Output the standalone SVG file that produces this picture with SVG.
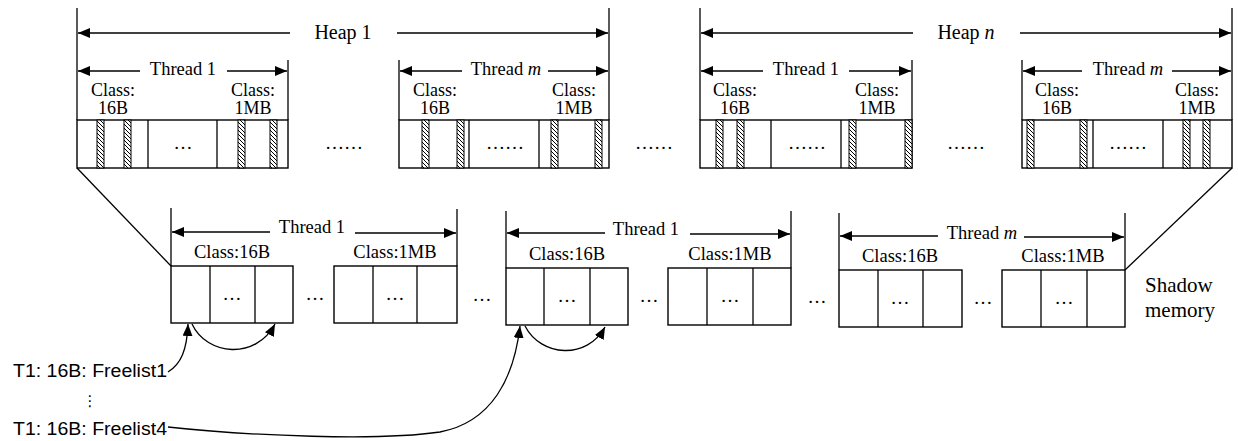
<svg xmlns="http://www.w3.org/2000/svg" width="1238" height="441" viewBox="0 0 1238 441">
<style>
.ln{stroke:#000;stroke-width:1.3;fill:none}
.bx{stroke:#000;stroke-width:1.4;fill:#fff}
.ht{stroke:#000;stroke-width:1;fill:url(#hatch)}
.s{font-family:"Liberation Serif","Times New Roman",serif;fill:#000;text-anchor:middle}
.h{font-size:20px}
.t{font-size:18.5px}
.c{font-size:18px}
.d{font-size:19px}
.sm{font-size:21px;text-anchor:start}
.f{font-family:"Liberation Sans",Arial,sans-serif;font-size:17.5px;fill:#000}
.arr{marker-end:url(#ah)}
.arl{marker-start:url(#ahs)}
</style>
<defs>
<pattern id="hatch" patternUnits="userSpaceOnUse" width="4" height="4">
<rect width="4" height="4" fill="#fff"/>
<path d="M0,0 L4,4 M-1,3 L1,5 M3,-1 L5,1" stroke="#000" stroke-width="1"/>
</pattern>
<marker id="ah" markerUnits="userSpaceOnUse" markerWidth="13" markerHeight="10" refX="12" refY="5" orient="auto">
<path d="M0,0 L12,5 L0,10 Z" fill="#000"/>
</marker>
<marker id="ahs" markerUnits="userSpaceOnUse" markerWidth="13" markerHeight="10" refX="0" refY="5" orient="auto">
<path d="M12,0 L0,5 L12,10 Z" fill="#000"/>
</marker>
</defs>
<rect width="1238" height="441" fill="#fff"/>

<!-- Heap 1 / Thread 1 -->
<g id="heap1-thread1">
<rect class="bx" x="77" y="120" width="211" height="48"/>
<line class="ln" x1="148" y1="120" x2="148" y2="168"/>
<line class="ln" x1="217" y1="120" x2="217" y2="168"/>
<rect class="ht" x="97" y="120" width="7" height="48"/>
<rect class="ht" x="124" y="120" width="7" height="48"/>
<rect class="ht" x="238" y="120" width="7" height="48"/>
<rect class="ht" x="270" y="120" width="7" height="48"/>
<text class="s c" x="113" y="96">Class:</text>
<text class="s c" x="113" y="114">16B</text>
<text class="s c" x="253" y="96">Class:</text>
<text class="s c" x="253" y="114">1MB</text>
<text class="s d" x="183" y="149">…</text>
<text class="s t" x="183" y="75">Thread 1</text>
</g>
<text class="s d" x="344" y="149">……</text>

<!-- Heap 1 / Thread m -->
<g id="heap1-threadm">
<rect class="bx" x="399" y="120" width="210" height="48"/>
<line class="ln" x1="469" y1="120" x2="469" y2="168"/>
<line class="ln" x1="539" y1="120" x2="539" y2="168"/>
<rect class="ht" x="422" y="120" width="7" height="48"/>
<rect class="ht" x="457" y="120" width="7" height="48"/>
<rect class="ht" x="551" y="120" width="7" height="48"/>
<rect class="ht" x="595" y="120" width="7" height="48"/>
<text class="s c" x="435" y="96">Class:</text>
<text class="s c" x="435" y="114">16B</text>
<text class="s c" x="574" y="96">Class:</text>
<text class="s c" x="574" y="114">1MB</text>
<text class="s d" x="505" y="149">……</text>
<text class="s t" x="506" y="75">Thread <tspan font-style="italic">m</tspan></text>
</g>
<text class="s d" x="654" y="149">……</text>

<!-- Heap n / Thread 1 -->
<g id="heapn-thread1">
<rect class="bx" x="700" y="120" width="212" height="48"/>
<line class="ln" x1="771" y1="120" x2="771" y2="168"/>
<line class="ln" x1="841" y1="120" x2="841" y2="168"/>
<rect class="ht" x="716" y="120" width="7" height="48"/>
<rect class="ht" x="737" y="120" width="7" height="48"/>
<rect class="ht" x="849" y="120" width="7" height="48"/>
<rect class="ht" x="905" y="120" width="7" height="48"/>
<text class="s c" x="735" y="96">Class:</text>
<text class="s c" x="735" y="114">16B</text>
<text class="s c" x="877" y="96">Class:</text>
<text class="s c" x="877" y="114">1MB</text>
<text class="s d" x="807" y="149">……</text>
<text class="s t" x="806" y="75">Thread 1</text>
</g>
<text class="s d" x="966" y="149">……</text>

<!-- Heap n / Thread m -->
<g id="heapn-threadm">
<rect class="bx" x="1022" y="120" width="210" height="48"/>
<line class="ln" x1="1093" y1="120" x2="1093" y2="168"/>
<line class="ln" x1="1163" y1="120" x2="1163" y2="168"/>
<rect class="ht" x="1027" y="120" width="7" height="48"/>
<rect class="ht" x="1080" y="120" width="7" height="48"/>
<rect class="ht" x="1183" y="120" width="7" height="48"/>
<rect class="ht" x="1203" y="120" width="7" height="48"/>
<text class="s c" x="1057" y="96">Class:</text>
<text class="s c" x="1057" y="114">16B</text>
<text class="s c" x="1197" y="96">Class:</text>
<text class="s c" x="1197" y="114">1MB</text>
<text class="s d" x="1128" y="149">……</text>
<text class="s t" x="1128" y="75">Thread <tspan font-style="italic">m</tspan></text>
</g>

<g id="heap-labels">
<text class="s h" x="343" y="39">Heap 1</text>
<text class="s h" x="966" y="39">Heap <tspan font-style="italic">n</tspan></text>
</g>

<!-- Shadow memory -->
<g id="shadow-t1a">
<rect class="bx" x="171" y="266" width="122" height="57"/>
<line class="ln" x1="210" y1="266" x2="210" y2="323"/>
<line class="ln" x1="255" y1="266" x2="255" y2="323"/>
<text class="s d" x="232" y="300">…</text>
<text class="s t" x="232" y="258">Class:16B</text>
<rect class="bx" x="334" y="266" width="123" height="57"/>
<line class="ln" x1="373" y1="266" x2="373" y2="323"/>
<line class="ln" x1="417" y1="266" x2="417" y2="323"/>
<text class="s d" x="395" y="300">…</text>
<text class="s t" x="395" y="258">Class:1MB</text>
<text class="s d" x="315" y="300">…</text>
<text class="s t" x="312" y="233">Thread 1</text>
</g>
<text class="s d" x="482" y="301">…</text>
<g id="shadow-t1b">
<rect class="bx" x="506" y="268" width="122" height="57"/>
<line class="ln" x1="544" y1="268" x2="544" y2="325"/>
<line class="ln" x1="590" y1="268" x2="590" y2="325"/>
<text class="s d" x="567" y="302">…</text>
<text class="s t" x="567" y="260">Class:16B</text>
<rect class="bx" x="668" y="268" width="123" height="57"/>
<line class="ln" x1="707" y1="268" x2="707" y2="325"/>
<line class="ln" x1="753" y1="268" x2="753" y2="325"/>
<text class="s d" x="730" y="302">…</text>
<text class="s t" x="730" y="260">Class:1MB</text>
<text class="s d" x="649" y="302">…</text>
<text class="s t" x="646" y="235">Thread 1</text>
</g>
<text class="s d" x="817" y="303">…</text>
<g id="shadow-tm">
<rect class="bx" x="839" y="270" width="123" height="57"/>
<line class="ln" x1="878" y1="270" x2="878" y2="327"/>
<line class="ln" x1="923" y1="270" x2="923" y2="327"/>
<text class="s d" x="900" y="304">…</text>
<text class="s t" x="900" y="262">Class:16B</text>
<rect class="bx" x="1002" y="270" width="123" height="57"/>
<line class="ln" x1="1041" y1="270" x2="1041" y2="327"/>
<line class="ln" x1="1087" y1="270" x2="1087" y2="327"/>
<text class="s d" x="1064" y="304">…</text>
<text class="s t" x="1063" y="262">Class:1MB</text>
<text class="s d" x="983" y="304">…</text>
<text class="s t" x="982" y="239">Thread <tspan font-style="italic">m</tspan></text>
</g>
<g id="shadow-label">
<text class="s sm" x="1145" y="292">Shadow</text>
<text class="s sm" x="1145" y="317">memory</text>
</g>

<g id="freelists">
<text class="f" x="13" y="377" textLength="154" lengthAdjust="spacingAndGlyphs">T1: 16B: Freelist1</text>
<text x="90" y="406" font-family="DejaVu Sans,sans-serif" font-size="15" text-anchor="middle">⋮</text>
<text class="f" x="13" y="435" textLength="154" lengthAdjust="spacingAndGlyphs">T1: 16B: Freelist4</text>
</g>

<g id="connectors">
<line class="ln" x1="77" y1="8" x2="77" y2="120"/>
<line class="ln" x1="609" y1="8" x2="609" y2="120"/>
<line class="ln" x1="288" y1="60" x2="288" y2="120"/>
<line class="ln" x1="399" y1="60" x2="399" y2="120"/>
<line class="ln" x1="700" y1="8" x2="700" y2="120"/>
<line class="ln" x1="1232" y1="8" x2="1232" y2="120"/>
<line class="ln" x1="912" y1="60" x2="912" y2="120"/>
<line class="ln" x1="1022" y1="60" x2="1022" y2="120"/>
<line class="ln arl" x1="78" y1="33" x2="290" y2="33"/>
<line class="ln arr" x1="397" y1="33" x2="608" y2="33"/>
<line class="ln arl" x1="701" y1="33" x2="913" y2="33"/>
<line class="ln arr" x1="1020" y1="33" x2="1231" y2="33"/>
<line class="ln arl" x1="78" y1="71" x2="140" y2="71"/>
<line class="ln arr" x1="227" y1="71" x2="287" y2="71"/>
<line class="ln arl" x1="400" y1="71" x2="462" y2="71"/>
<line class="ln arr" x1="548" y1="71" x2="608" y2="71"/>
<line class="ln arl" x1="701" y1="71" x2="763" y2="71"/>
<line class="ln arr" x1="849" y1="71" x2="911" y2="71"/>
<line class="ln arl" x1="1023" y1="71" x2="1082" y2="71"/>
<line class="ln arr" x1="1172" y1="71" x2="1231" y2="71"/>
<line class="ln" x1="77" y1="168" x2="171" y2="266"/>
<line class="ln" x1="1232" y1="168" x2="1125" y2="270"/>
<line class="ln" x1="171" y1="208" x2="171" y2="266"/>
<line class="ln" x1="457" y1="209" x2="457" y2="266"/>
<line class="ln arl" x1="172" y1="232" x2="270" y2="232"/>
<line class="ln arr" x1="355" y1="233" x2="456" y2="233"/>
<line class="ln" x1="506" y1="211" x2="506" y2="268"/>
<line class="ln" x1="791" y1="211" x2="791" y2="268"/>
<line class="ln arl" x1="507" y1="233" x2="605" y2="233"/>
<line class="ln arr" x1="690" y1="234" x2="790" y2="234"/>
<line class="ln" x1="839" y1="213" x2="839" y2="270"/>
<line class="ln" x1="1125" y1="213" x2="1125" y2="270"/>
<line class="ln arl" x1="840" y1="236" x2="938" y2="236"/>
<line class="ln arr" x1="1024" y1="237" x2="1124" y2="237"/>
<path class="ln arr" stroke-width="1.6" d="M168,372 C181,364 187,350 188,324"/>
<path class="ln arr" stroke-width="1.6" d="M192,324 C207,356 256,360 275,324"/>
<path class="ln arr" stroke-width="1.6" d="M168,427 C250,436 380,441 440,432 C492,422 514,378 520,326"/>
<path class="ln arr" stroke-width="1.6" d="M525,326 C541,357 587,360 605,327"/>
</g>
</svg>
